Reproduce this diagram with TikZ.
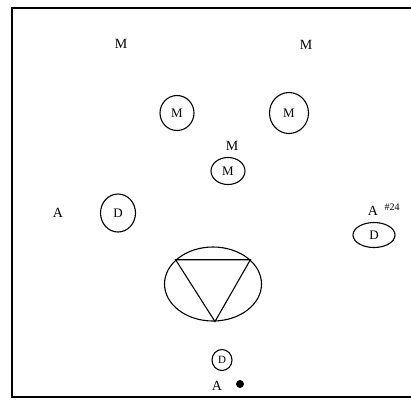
\documentclass[tikz,border=0pt]{standalone}
\usepackage{fontspec}
\setmainfont{Liberation Serif}
\usetikzlibrary{shapes.geometric}
\begin{document}
\begin{tikzpicture}[x=1pt, y=-1pt,
		lbl/.style={font=\fontsize{14}{14}\selectfont},
		ring/.style={draw, ellipse, line width=1.1pt, inner sep=0pt, font=\fontsize{13}{13}\selectfont}]
	\useasboundingbox (0,0) rectangle (411,400);
	% frame
	\draw[black, line width=1.6pt] (411,8) -- (12,8) -- (12,397) -- (411,397);

	\node[lbl] (mtl) at (121,44) {M};
	\node[lbl] (mtr) at (306,45) {M};

	\node[ring, minimum width=34, minimum height=35] (cml) at (177,113) {M};
	\node[ring, minimum width=39, minimum height=41] (cmr) at (289,113) {M};

	\node[lbl] (mmid) at (232,146) {M};
	\node[ring, minimum width=34, minimum height=27] (cmmid) at (228,171) {M};

	\node[lbl] (aleft) at (58,213) {A};
	\node[ring, minimum width=35, minimum height=38] (dleft) at (118,213) {D};

	\node[lbl] (aright) at (373,211) {A};
	\node[font=\fontsize{10}{10}\selectfont] (tag) at (392,207) {\#24};
	\node[ring, minimum width=42, minimum height=25] (dright) at (374,235) {D};

	% ellipse with triangle
	\node[draw, ellipse, line width=1.1pt, minimum width=97, minimum height=74] (big) at (213,284) {};
	\draw[black, line width=1.1pt] (big.147) -- (big.33) -- (big.273) -- cycle;

	\node[ring, minimum width=20, minimum height=21, font=\fontsize{11}{11}\selectfont] (dbot) at (222,360) {D};
	\node[lbl] (abot) at (217,386) {A};
	\fill[black] (240,384) circle (4);
\end{tikzpicture}
\end{document}
